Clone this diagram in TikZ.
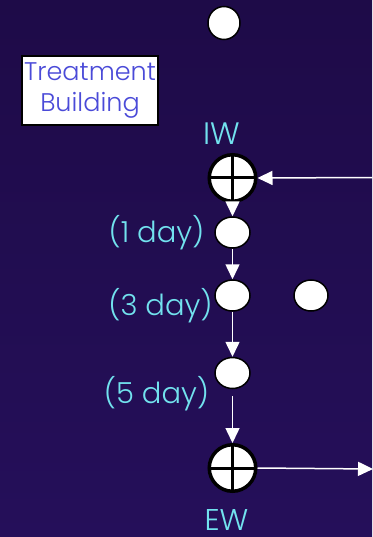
\documentclass[tikz,border=0pt]{standalone}
\usepackage{fontspec}
\setmainfont{Poppins Light}
\usetikzlibrary{arrows.meta,shapes.geometric}
\definecolor{bgtop}{HTML}{1E0B48}
\definecolor{bgbot}{HTML}{250F5A}
\definecolor{lbl}{HTML}{72E2EE}
\definecolor{tbtext}{HTML}{4A4AD8}
\begin{document}
\begin{tikzpicture}[x=1pt,y=-1pt,
  pond/.style={ellipse, draw=black, fill=white, line width=1.5pt, inner sep=0pt,
    minimum width=35pt, minimum height=31pt},
  well/.style={circle, draw=black, fill=white, line width=3.5pt, inner sep=0pt,
    minimum size=46.5pt,
    path picture={\draw[black,line width=3pt]
      (path picture bounding box.north) -- (path picture bounding box.south)
      (path picture bounding box.west) -- (path picture bounding box.east);}},
  flow/.style={draw=white, line width=1.5pt, -{Triangle[length=15pt,width=14pt]}},
  lab/.style={text=lbl, anchor=base, inner sep=0pt, font=\fontsize{29}{31}\selectfont},
]
\useasboundingbox (0,0) rectangle (372,537);
\clip (0,0) rectangle (372,537);
\fill[top color=bgtop, bottom color=bgbot] (0,0) rectangle (372,537);

% treatment building
\node[draw=black, fill=white, line width=1.5pt, minimum width=136pt, minimum height=69pt,
  align=center, text=tbtext, inner sep=0pt, font=\fontsize{25.5}{30.3}\selectfont]
  (tb) at (90,90.5) {Treatment\\Building};

% ponds and wells
\node[pond, minimum width=32pt, minimum height=33pt] (top) at (224,23) {};
\node[well] (iw) at (232.5,178) {};
\node[pond] (d1) at (232.5,232.5) {};
\node[pond] (d3) at (232.5,295.5) {};
\node[pond, minimum width=34pt] (side) at (311,295.5) {};
\node[pond] (d5) at (232.5,373) {};
\node[well] (ew) at (232.5,468) {};

% labels
\node[lab, font=\fontsize{31}{33}\selectfont] (iwl) at (221.5,145) {IW};
\node[lab] (l1) at (156.5,242) {(1 day)};
\node[lab] (l3) at (160.5,315) {(3 day)};
\node[lab] (l5) at (156.5,403) {(5 day)};
\node[lab, text depth=0pt, font=\fontsize{30}{32}\selectfont] (ewl) at (226.5,530) {EW};

% flow connectors
\coordinate (inR) at (375,177.5);
\coordinate (outR) at (373,469);
\draw[flow] (inR) -- (iw.east);
\draw[flow] (iw) -- (d1);
\draw[flow] (d1) -- (d3);
\draw[flow] (d3) -- (d5);
\draw[flow, shorten <=7pt] (d5) -- (ew);
\draw[flow] (ew.east) -- (outR);
\end{tikzpicture}
\end{document}
